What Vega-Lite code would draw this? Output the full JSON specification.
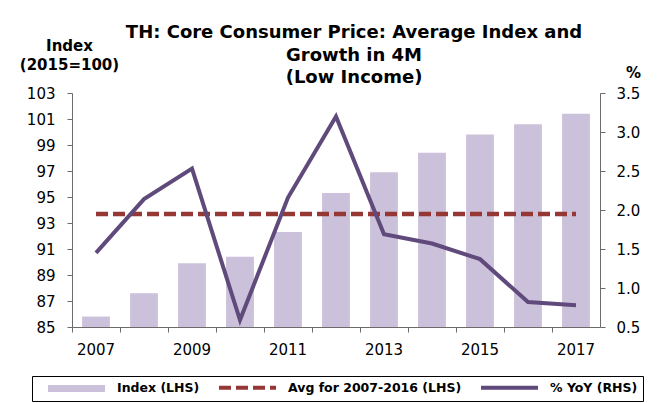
{
  "$schema": "https://vega.github.io/schema/vega-lite/v6.json",
  "autosize": "none",
  "width": 528,
  "height": 234,
  "padding": {"left": 72, "top": 93, "right": 62, "bottom": 76},
  "background": "white",
  "title": {
    "text": ["TH: Core Consumer Price: Average Index and", "Growth in 4M", "(Low Income)"],
    "font": "DejaVu Sans",
    "fontSize": 18,
    "fontWeight": "bold",
    "lineHeight": 22.5,
    "anchor": "middle",
    "frame": "group",
    "color": "#000000",
    "dx": 18,
    "dy": 53
  },
  "data": {
    "values": [
      {"year": 2007, "index": 85.8, "avg": 93.7, "pct": 1.45},
      {"year": 2008, "index": 87.6, "avg": 93.7, "pct": 2.14},
      {"year": 2009, "index": 89.9, "avg": 93.7, "pct": 2.53},
      {"year": 2010, "index": 90.4, "avg": 93.7, "pct": 0.59},
      {"year": 2011, "index": 92.3, "avg": 93.7, "pct": 2.16},
      {"year": 2012, "index": 95.3, "avg": 93.7, "pct": 3.2},
      {"year": 2013, "index": 96.9, "avg": 93.7, "pct": 1.69},
      {"year": 2014, "index": 98.4, "avg": 93.7, "pct": 1.57},
      {"year": 2015, "index": 99.8, "avg": 93.7, "pct": 1.37},
      {"year": 2016, "index": 100.6, "avg": 93.7, "pct": 0.82},
      {"year": 2017, "index": 101.4, "avg": 93.7, "pct": 0.78}
    ]
  },
  "layer": [
    {
      "mark": {"type": "bar"},
      "encoding": {
        "x": {
          "field": "year", "type": "ordinal",
          "scale": {"paddingInner": 0.42, "paddingOuter": 0.21},
          "axis": {
            "orient": "bottom", "title": null, "values": [2007, 2009, 2011, 2013, 2015, 2017],
            "ticks": false, "domain": false, "labelAngle": 0, "labelPadding": 15
          }
        },
        "y": {
          "field": "index", "type": "quantitative",
          "scale": {"domain": [85, 103], "nice": false, "zero": false},
          "axis": {
            "orient": "left",
            "values": [85, 87, 89, 91, 93, 95, 97, 99, 101, 103],
            "tickSize": 5, "labelPadding": 12,
            "title": ["Index", "(2015=100)"],
            "titleAngle": 0, "titleX": -3, "titleY": -55,
            "titleAlign": "center", "titleBaseline": "top",
            "titleFontSize": 15, "titleFontWeight": "bold", "titleLineHeight": 19, "titleColor": "#000000"
          }
        },
        "y2": {"datum": 85},
        "color": {
          "datum": "Index (LHS)",
          "scale": {
            "domain": ["Index (LHS)", "Avg for 2007-2016 (LHS)", "% YoY (RHS)"],
            "range": ["#CCC1DA", "#953735", "#604A7B"]
          },
          "legend": {
            "title": null,
            "orient": "none",
            "legendX": -40,
            "legendY": 283,
            "direction": "horizontal",
            "strokeColor": "#000000",
            "padding": 5,
            "columnPadding": 0,
            "symbolSize": 16,
            "labelOffset": 67.5,
            "labelLimit": 400,
            "labelFont": "DejaVu Sans",
            "labelFontSize": 12.5,
            "labelFontWeight": "bold",
            "labelColor": "#000000",
            "encode": {
              "symbols": {
                "update": {
                  "shape": {"signal": "datum.value === 'Index (LHS)' ? 'M-3.125,0M2.375,-1.75H30.875V1.75H2.375Z' : 'M-3.125,0M2.375,0H30.875'"},
                  "fill": {"signal": "datum.value === 'Index (LHS)' ? '#CCC1DA' : 'transparent'"},
                  "stroke": {"signal": "datum.value === 'Index (LHS)' ? 'transparent' : (datum.value === '% YoY (RHS)' ? '#604A7B' : '#953735')"},
                  "strokeWidth": {"signal": "datum.value === 'Index (LHS)' ? 0 : 4"},
                  "strokeDash": {"signal": "datum.value === 'Avg for 2007-2016 (LHS)' ? [12, 5] : [1, 0]"},
                  "opacity": {"value": 1}
                }
              }
            }
          }
        }
      }
    },
    {
      "mark": {"type": "line", "strokeWidth": 4.5, "strokeDash": [12, 5]},
      "encoding": {
        "x": {
          "field": "year", "type": "ordinal",
          "axis": {
            "orient": "bottom", "title": null, "labels": false, "ticks": true,
            "tickSize": 5, "domain": true, "bandPosition": -0.362
          }
        },
        "y": {
          "field": "avg", "type": "quantitative",
          "scale": {"domain": [85, 103], "nice": false, "zero": false},
          "axis": null
        },
        "color": {"datum": "Avg for 2007-2016 (LHS)"}
      }
    },
    {
      "mark": {"type": "line", "strokeWidth": 4},
      "encoding": {
        "x": {"field": "year", "type": "ordinal", "axis": null},
        "y": {
          "field": "pct", "type": "quantitative",
          "scale": {"domain": [0.5, 3.5], "nice": false, "zero": false},
          "axis": {
            "orient": "right",
            "values": [0.5, 1, 1.5, 2, 2.5, 3, 3.5],
            "format": ".1f",
            "tickSize": 5, "labelPadding": 11,
            "title": "%",
            "titleAngle": 0, "titleX": 33, "titleY": -21,
            "titleAlign": "center", "titleBaseline": "middle",
            "titleFontSize": 15, "titleFontWeight": "bold", "titleColor": "#000000"
          }
        },
        "color": {"datum": "% YoY (RHS)"}
      }
    }
  ],
  "resolve": {"scale": {"y": "independent"}, "axis": {"x": "independent", "y": "independent"}},
  "config": {
    "font": "DejaVu Sans",
    "view": {"stroke": null},
    "axis": {
      "labelFontSize": 15,
      "labelColor": "#000000",
      "labelFont": "DejaVu Sans",
      "domainColor": "#6b6b6b",
      "tickColor": "#6b6b6b",
      "grid": false
    }
  }
}
